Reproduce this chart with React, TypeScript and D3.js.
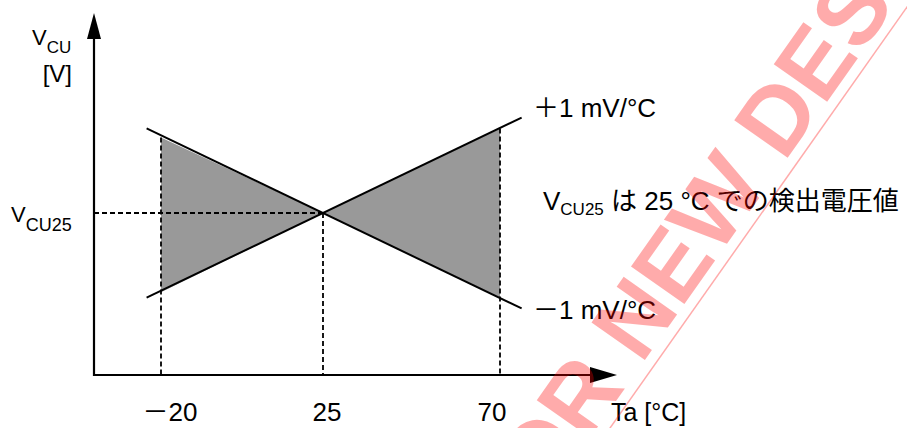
import React from "react";
import * as d3 from "d3";

// ---- data (schematic) ----
const tickTemps = [-20, 25, 70];
const tickLabels = ["－20", "25", "70"];
const lineTemps = [-24, 75.5];
const plusLineMv = [-47, 53]; // +1 mV/°C line, deviation from VCU25
const minusLineMv = [47, -53]; // -1 mV/°C line
const bandTemps = [-20, 25, 70];
const bandUpperMv = [42, 0, 47];
const bandLowerMv = [-44, 0, -47];
const plusLabel = "＋1 mV/°C";
const minusLabel = "－1 mV/°C";
const xTitle = "Ta [°C]";
const noteText = " は 25 °C での検出電圧値";
const watermarkA = "NOT RECOMMENDED FOR NEW";
const watermarkB = "DESIGN";

const W = 907;
const H = 428;
const FONT = "'Liberation Sans', Arial, sans-serif";
const JFONT = "'Liberation Sans', 'Noto Sans CJK JP', sans-serif";

export default function App() {
  const x = d3.scaleLinear().domain([-20, 25, 70]).range([161, 323, 500]);
  const y = d3.scaleLinear().domain([-90, 90]).range([375, 51]);
  const x0 = 94;
  const yAxis = y(-90);
  const xArrowTip = 617;
  const xArrowBase = 590;
  const yArrowTip = 13;
  const yArrowBase = 39;

  const lineGen = d3
    .line<[number, number]>()
    .x((d) => x(d[0]))
    .y((d) => y(d[1]));
  const plusPts = lineTemps.map((t, i) => [t, plusLineMv[i]] as [number, number]);
  const minusPts = lineTemps.map((t, i) => [t, minusLineMv[i]] as [number, number]);

  const area = d3
    .area<number>()
    .x((t) => x(t))
    .y0((_, i) => y(bandLowerMv[i]))
    .y1((_, i) => y(bandUpperMv[i]));

  const labelNudge = [9, 4, -8];
  const dash = { stroke: "#000", strokeWidth: 1.8, strokeDasharray: "5,3" };

  return (
    <svg
      width={W}
      height={H}
      style={{ position: "absolute", left: 0, top: 0, background: "#fff" }}
      fontFamily={FONT}
    >
      <rect x={0} y={0} width={W} height={H} fill="#fff" />
      {/* shaded band */}
      <path d={area(bandTemps) || ""} fill="#999999" stroke="none" />

      {/* dashed guides */}
      <line x1={x0} x2={x(25)} y1={y(0)} y2={y(0)} {...dash} />
      {bandTemps.map((t, i) => (
        <line
          key={t}
          x1={x(t)}
          x2={x(t)}
          y1={y(bandUpperMv[i])}
          y2={yAxis}
          {...dash}
        />
      ))}

      {/* characteristic lines */}
      <path d={lineGen(plusPts) || ""} fill="none" stroke="#000" strokeWidth={2} />
      <path d={lineGen(minusPts) || ""} fill="none" stroke="#000" strokeWidth={2} />

      {/* axes */}
      <line x1={x0} x2={x0} y1={yAxis + 1} y2={yArrowBase} stroke="#000" strokeWidth={2.2} />
      <path
        d={`M${x0},${yArrowTip}L${x0 - 7},${yArrowBase}L${x0 + 7},${yArrowBase}Z`}
        fill="#000"
      />
      <line x1={x0 - 1} x2={xArrowBase} y1={yAxis} y2={yAxis} stroke="#000" strokeWidth={2.2} />
      <path
        d={`M${xArrowTip},${yAxis}L${xArrowBase},${yAxis - 8}L${xArrowBase},${yAxis + 8}Z`}
        fill="#000"
      />

      {/* y axis title */}
      <text x={32} y={45} fontSize={22} fill="#000">
        V<tspan fontSize={17} dy={8}>CU</tspan>
      </text>
      <text x={72} y={82} fontSize={24} textAnchor="end" fill="#000">
        [V]
      </text>
      <text x={11} y={222} fontSize={22} fill="#000">
        V<tspan fontSize={18} dy={9}>CU25</tspan>
      </text>

      {/* x tick labels */}
      {tickTemps.map((t, i) => (
        <text
          key={t}
          x={x(t) + labelNudge[i]}
          y={421}
          fontSize={26}
          textAnchor="middle"
          fontFamily={JFONT}
          fill="#000"
        >
          {tickLabels[i]}
        </text>
      ))}
      <text x={611} y={421} fontSize={25} fill="#000">
        {xTitle}
      </text>

      {/* line labels */}
      <text x={533} y={117} fontSize={26} fontFamily={JFONT} fill="#000">
        {plusLabel}
      </text>
      <text x={533} y={319} fontSize={26} fontFamily={JFONT} fill="#000">
        {minusLabel}
      </text>

      {/* note */}
      <text x={543} y={210} fontSize={26} fontFamily={JFONT} fill="#000">
        V<tspan fontSize={17} dy={5}>CU25</tspan>
        <tspan dy={-5}>{noteText}</tspan>
      </text>

      {/* watermark */}
      <g transform="translate(784,163) rotate(-54.8)" fill="#ff0000" fillOpacity={0.33}>
        <text
          x={-26}
          y={0}
          fontSize={95}
          fontWeight="bold"
          textAnchor="end"
          fontFamily={FONT}
        >
          {watermarkA}
        </text>
        <text x={0} y={0} fontSize={95} fontWeight="bold" fontFamily={FONT}>
          {watermarkB}
        </text>
        <line
          x1={-2000}
          x2={2000}
          y1={10.6}
          y2={10.6}
          stroke="#ff0000"
          strokeOpacity={0.33}
          strokeWidth={1.5}
        />
      </g>
    </svg>
  );
}
